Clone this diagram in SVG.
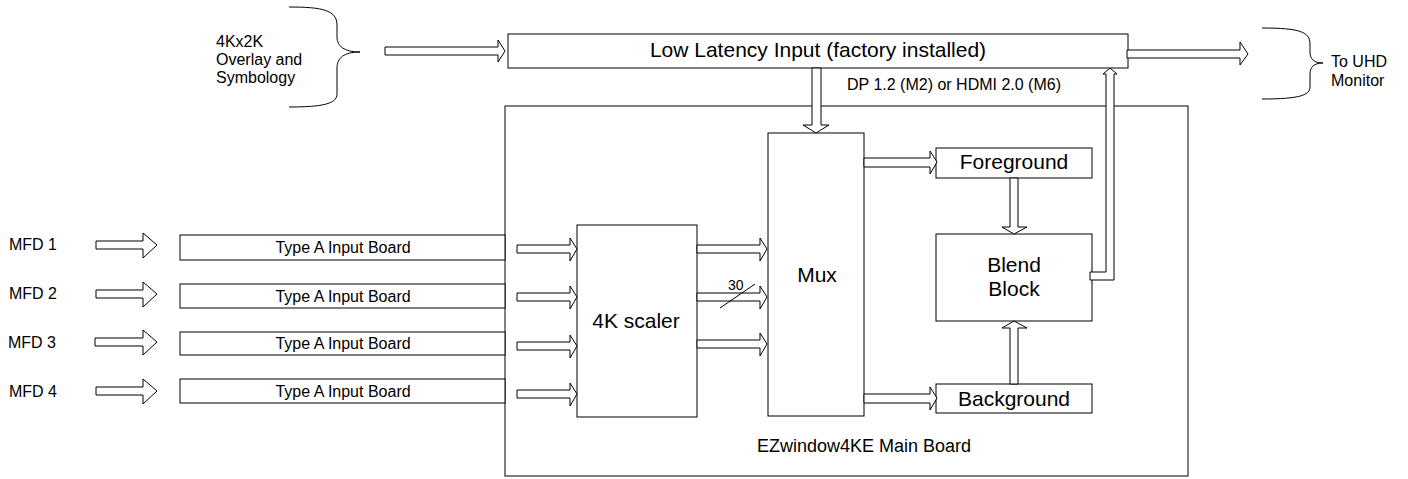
<svg xmlns="http://www.w3.org/2000/svg" width="1408" height="479" viewBox="0 0 1408 479">
<style>
.box{fill:#fff;stroke:#000;stroke-width:1}
.arr{fill:#fff;stroke:#000;stroke-width:1;stroke-linejoin:miter}
.ln{fill:none;stroke:#000;stroke-width:1}
text{font-family:"Liberation Sans",Arial,sans-serif;fill:#000}
.s16{font-size:16px}
.s21{font-size:21px}
.mid{text-anchor:middle}
</style>
<rect width="1408" height="479" fill="#fff"/>
<g id="main-board">
<rect class="box" x="505" y="106" width="683" height="370" stroke="#333"/>
<text class="mid" x="864" y="452" style="font-size:18px">EZwindow4KE Main Board</text>
</g>
<g id="overlay-source">
<path class="ln" d="M289,7 C322,7 337,10 337,25 L337,37 C337,46 344,52 360,52 C344,52 337,58 337,68 L337,94 C337,104 322,107 289,107"/>
<text class="s16" x="216" y="47">4Kx2K</text>
<text class="s16" x="216" y="65">Overlay and</text>
<text class="s16" x="216" y="83">Symbology</text>
</g>
<g id="uhd-monitor">
<path class="ln" d="M1262,28 C1300,28 1310,32 1310,44 L1310,52 C1310,59 1314,63 1323,63 C1314,63 1310,67 1310,74 L1310,87 C1310,95 1300,99 1262,99"/>
<text class="s16" x="1331" y="67">To UHD</text>
<text class="s16" x="1331" y="86">Monitor</text>
</g>
<g id="low-latency-input">
<rect class="box" x="508" y="34" width="620" height="34"/>
<text class="s21 mid" x="818" y="57">Low Latency Input (factory installed)</text>
</g>
<g id="dp-label">
<text class="s16" x="847" y="90">DP 1.2 (M2) or HDMI 2.0 (M6)</text>
</g>
<g id="mfd-labels">
<text class="s16" x="9" y="250">MFD 1</text>
<text class="s16" x="9" y="299">MFD 2</text>
<text class="s16" x="8" y="348">MFD 3</text>
<text class="s16" x="9" y="397">MFD 4</text>
</g>
<g id="input-board-1">
<rect class="box" x="180" y="235" width="325" height="25"/>
<text class="s16 mid" x="343" y="253">Type A Input Board</text>
</g>
<g id="input-board-2">
<rect class="box" x="180" y="284" width="325" height="24"/>
<text class="s16 mid" x="343" y="302">Type A Input Board</text>
</g>
<g id="input-board-3">
<rect class="box" x="180" y="332" width="325" height="23"/>
<text class="s16 mid" x="343" y="349">Type A Input Board</text>
</g>
<g id="input-board-4">
<rect class="box" x="180" y="379" width="325" height="24"/>
<text class="s16 mid" x="343" y="397">Type A Input Board</text>
</g>
<g id="scaler">
<rect class="box" x="577" y="225" width="120" height="192"/>
<text class="s21 mid" x="636" y="328">4K scaler</text>
</g>
<g id="mux">
<rect class="box" x="768" y="133" width="96" height="283"/>
<text class="s21 mid" x="817" y="282">Mux</text>
</g>
<g id="foreground">
<rect class="box" x="936" y="148" width="156" height="30"/>
<text class="s21 mid" x="1014" y="169">Foreground</text>
</g>
<g id="blend-block">
<rect class="box" x="936" y="234" width="156" height="87"/>
<text class="s21 mid" x="1014" y="272">Blend</text>
<text class="s21 mid" x="1014" y="296">Block</text>
</g>
<g id="background">
<rect class="box" x="936" y="384" width="156" height="29"/>
<text class="s21 mid" x="1014" y="406">Background</text>
</g>
<g id="connectors">
<!-- overlay to low latency -->
<polygon class="arr" points="385,47 498,47 498,40 505,51 498,62 498,55 385,55"/>
<!-- low latency to monitor -->
<polygon class="arr" points="1127,50 1240,50 1240,42 1248,54 1240,65 1240,58 1127,58"/>
<!-- low latency to mux -->
<polygon class="arr" points="812,68 821,68 821,125 829,125 816,133 803,125 812,125"/>
<!-- MFD arrows -->
<polygon class="arr" points="96,241 143,241 143,233 157,245 143,258 143,249 96,249"/>
<polygon class="arr" points="96,290 143,290 143,282 157,294 143,307 143,298 96,298"/>
<polygon class="arr" points="95,338 143,338 143,330 157,342 143,355 143,346 95,346"/>
<polygon class="arr" points="96,387 143,387 143,379 157,391 143,404 143,395 96,395"/>
<!-- boards to scaler -->
<polygon class="arr" points="517,245 570,245 570,238 577,249 570,261 570,253 517,253"/>
<polygon class="arr" points="517,293 570,293 570,286 577,297 570,309 570,301 517,301"/>
<polygon class="arr" points="517,342 570,342 570,335 577,346 570,358 570,350 517,350"/>
<polygon class="arr" points="517,390 570,390 570,383 577,394 570,406 570,398 517,398"/>
<!-- scaler to mux -->
<polygon class="arr" points="697,245 760,245 760,238 767,249 760,261 760,253 697,253"/>
<polygon class="arr" points="697,293 760,293 760,286 767,297 760,309 760,301 697,301"/>
<polygon class="arr" points="697,340 760,340 760,333 767,344 760,356 760,348 697,348"/>
<line class="ln" x1="720" y1="308" x2="755" y2="284"/>
<text x="728" y="290" style="font-size:14px">30</text>
<!-- mux to foreground / background -->
<polygon class="arr" points="864,158 930,158 930,151 937,162 930,174 930,167 864,167"/>
<polygon class="arr" points="864,394 930,394 930,387 937,398 930,410 930,403 864,403"/>
<!-- foreground to blend -->
<polygon class="arr" points="1010,178 1018,178 1018,227 1027,227 1014,234 1002,227 1010,227"/>
<!-- background to blend -->
<polygon class="arr" points="1010,384 1018,384 1018,328 1027,328 1014,321 1002,328 1010,328"/>
<!-- blend to low latency -->
<polygon class="arr" points="1090,272 1106,272 1106,74 1103,74 1110,68 1117,74 1114,74 1114,280 1090,280"/>
</g>
</svg>
